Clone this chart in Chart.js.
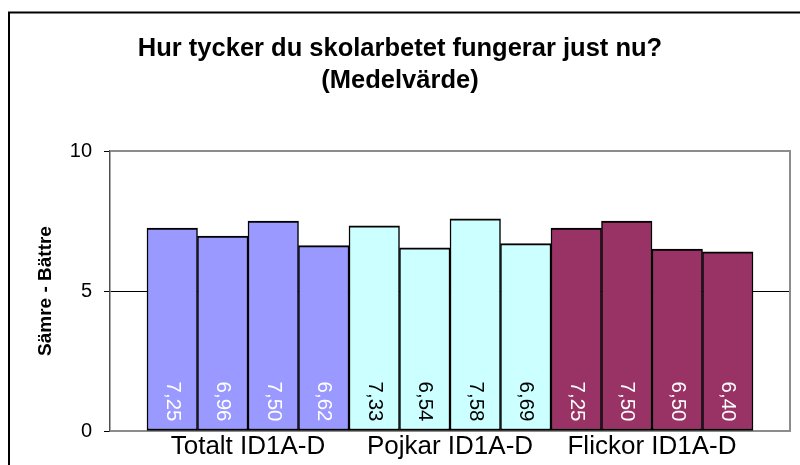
<!DOCTYPE html>
<html><head><meta charset="utf-8">
<script src="https://cdn.jsdelivr.net/npm/chart.js@4/dist/chart.umd.min.js"></script>
<style>html,body{margin:0;padding:0;background:#fff;} canvas{display:block;}</style>
</head><body>
<canvas id="c" width="800" height="465"></canvas>
<script>
const groups = ['Totalt ID1A-D', 'Pojkar ID1A-D', 'Flickor ID1A-D'];
const totaltValues = [7.25, 6.96, 7.50, 6.62];
const pojkarValues = [7.33, 6.54, 7.58, 6.69];
const flickorValues = [7.25, 7.50, 6.50, 6.40];
const yTicks = [0, 5, 10];
const groupColors = ['#9999FF', '#CCFFFF', '#993366'];
const labelColors = ['#FFFFFF', '#000000', '#FFFFFF'];
const titleLines = ['Hur tycker du skolarbetet fungerar just nu?', '(Medelvärde)'];
const yTitle = 'Sämre - Bättre';

const FONT = "'Liberation Sans', Arial, sans-serif";
const seriesByGroup = [totaltValues, pojkarValues, flickorValues];
const points = [], bg = [], lc = [];
seriesByGroup.forEach((vals, g) => vals.forEach(v => {
  points.push({x: points.length, y: v});
  bg.push(groupColors[g]);
  lc.push(labelColors[g]);
}));
const perGroup = totaltValues.length;
const groupCenters = groups.map((_, g) => g * perGroup + (perGroup - 1) / 2);

const outerBorder = {
  id: 'outerBorder',
  afterDraw(chart) {
    const ctx = chart.ctx;
    ctx.save();
    ctx.strokeStyle = '#000';
    ctx.lineWidth = 2;
    ctx.strokeRect(9, 12.5, 820, 480);
    ctx.restore();
  }
};
const plotFrame = {
  id: 'plotFrame',
  beforeDatasetsDraw(chart) {
    const {ctx, chartArea: a} = chart;
    ctx.save();
    ctx.strokeStyle = '#8C8C8C';
    ctx.lineWidth = 2;
    ctx.beginPath();
    ctx.moveTo(a.left, a.top); ctx.lineTo(a.right, a.top);
    ctx.lineTo(a.right, a.bottom); ctx.lineTo(a.left, a.bottom);
    ctx.stroke();
    ctx.restore();
  }
};
const valueLabels = {
  id: 'valueLabels',
  afterDatasetsDraw(chart) {
    const ctx = chart.ctx;
    const meta = chart.getDatasetMeta(0);
    ctx.save();
    ctx.font = '20.5px ' + FONT;
    meta.data.forEach((bar, i) => {
      const v = points[i].y;
      ctx.save();
      ctx.translate(bar.x, bar.base - 9);
      ctx.rotate(Math.PI / 2);
      ctx.fillStyle = lc[i];
      ctx.textAlign = 'right';
      ctx.textBaseline = 'middle';
      ctx.fillText(v.toFixed(2).replace('.', ','), 0, 0);
      ctx.restore();
    });
    ctx.restore();
  }
};

new Chart(document.getElementById('c'), {
  type: 'bar',
  data: {
    datasets: [{
      data: points,
      backgroundColor: bg,
      borderColor: '#000',
      borderWidth: {top: 2, left: 1.5, right: 1.5, bottom: 2},
      borderSkipped: false,
      barPercentage: 1,
      categoryPercentage: 1
    }]
  },
  options: {
    responsive: false,
    animation: false,
    layout: {padding: {left: 0, right: 0, top: 0, bottom: 0}},
    plugins: {
      legend: {display: false},
      tooltip: {enabled: false},
      title: {
        display: true,
        text: titleLines,
        color: '#000',
        font: {family: FONT, size: 25.5, weight: 'bold', lineHeight: 1.255},
        padding: {top: 33, bottom: 54}
      }
    },
    scales: {
      x: {
        type: 'linear',
        offset: false,
        min: -1.2327,
        max: 12.2327,
        afterBuildTicks: s => { s.ticks = groupCenters.map(v => ({value: v})); },
        ticks: {
          callback: (v, i) => groups[i],
          font: {family: FONT, size: 26, lineHeight: 1.1},
          color: '#000',
          padding: 2,
          maxRotation: 0,
          autoSkip: false
        },
        grid: {display: false, drawTicks: false},
        border: {display: false},
        afterFit: s => { s.height = 34; }
      },
      y: {
        type: 'linear',
        min: 0,
        max: 10,
        afterBuildTicks: s => { s.ticks = yTicks.map(v => ({value: v})); },
        ticks: {font: {family: FONT, size: 20}, color: '#000', padding: 12},
        grid: {
          color: c => (c.tick && c.tick.value === 5) ? '#000' : 'rgba(0,0,0,0)',
          lineWidth: 1,
          tickLength: 6,
          tickColor: '#000',
          drawTicks: true
        },
        border: {display: true, color: '#505050', width: 1.5},
        title: {
          display: true,
          text: yTitle,
          color: '#000',
          font: {family: FONT, size: 19, weight: 'bold'},
          padding: {top: 34, bottom: 0}
        },
        afterFit: s => { s.width = 110; }
      },
      yRight: {
        type: 'linear',
        position: 'right',
        min: 0,
        max: 10,
        grid: {display: false, drawTicks: false},
        ticks: {display: false},
        border: {display: false},
        afterFit: s => { s.width = 10; }
      }
    }
  },
  plugins: [plotFrame, valueLabels, outerBorder]
});
</script>
</body></html>
